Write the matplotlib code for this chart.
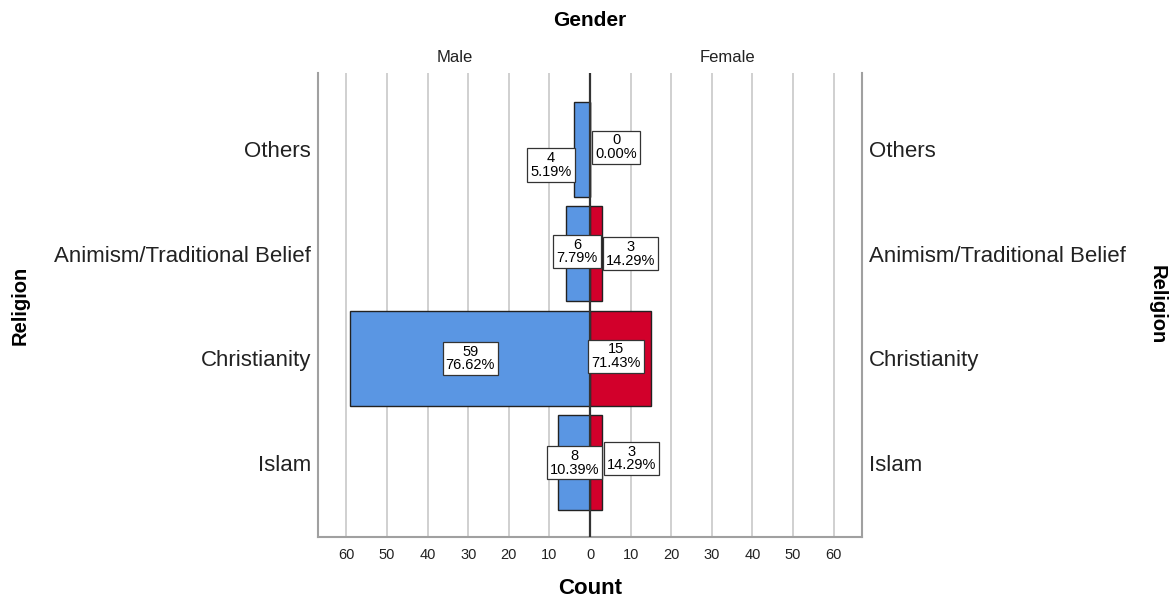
import numpy as np
import matplotlib.pyplot as plt

plt.rcParams["font.family"] = ["Liberation Sans", "DejaVu Sans"]

religions = ["Islam", "Christianity", "Animism/Traditional Belief", "Others"]
male = [8, 59, 6, 4]
female = [3, 15, 3, 0]
male_pct = ["10.39%", "76.62%", "7.79%", "5.19%"]
female_pct = ["14.29%", "71.43%", "14.29%", "0.00%"]
ticks = [-60, -50, -40, -30, -20, -10, 0, 10, 20, 30, 40, 50, 60]

# where the value boxes sit (data units), SPSS nudges them around
male_lab_x = [-3.9, -29.5, -3.2, -9.6]
male_lab_dy = [0.0, 0.0, 0.02, -0.15]
female_lab_x = [10.3, 6.4, 10.0, 6.4]
female_lab_dy = [0.04, 0.02, 0.0, 0.02]

blue = "#5a96e3"
red = "#d2002b"
grey = "#a0a0a0"

fig = plt.figure(figsize=(11.73, 5.99), dpi=100)
ax = fig.add_axes([0.271, 0.1035, 0.464, 0.7746])

y = np.arange(len(religions))
ax.barh(y, [-m for m in male], height=0.91, color=blue, edgecolor="#222222", linewidth=1, zorder=2)
ax.barh(y, female, height=0.91, color=red, edgecolor="#222222", linewidth=1, zorder=2)

for t in ticks:
    ax.axvline(t, color="#c8c8c8", linewidth=1.2, zorder=0)
ax.axvline(0, color="#333333", linewidth=1.6, zorder=3)

box = dict(boxstyle="square,pad=0.2", facecolor="white", edgecolor="#333333", linewidth=0.9)
for i in range(len(religions)):
    ax.text(male_lab_x[i], y[i] + male_lab_dy[i], f"{male[i]}\n{male_pct[i]}", ha="center", va="center",
            fontsize=10.5, linespacing=0.95, bbox=box, zorder=4)
    ax.text(female_lab_x[i], y[i] + female_lab_dy[i], f"{female[i]}\n{female_pct[i]}", ha="center", va="center",
            fontsize=10.5, linespacing=0.95, bbox=box, zorder=4)

ax.set_xlim(-67, 67)
ax.set_ylim(-0.71, 3.73)
ax.set_xticks(ticks)
ax.set_xticklabels([str(abs(t)) for t in ticks], fontsize=10.5, color="#222222")
ax.tick_params(axis="x", length=0, pad=8)

ax.set_yticks(y)
ax.set_yticklabels(religions, fontsize=16, color="#222222")
ax.tick_params(axis="y", length=0, pad=5, labelright=True, labelleft=True)

ax.spines["top"].set_visible(False)
for s in ["left", "right", "bottom"]:
    ax.spines[s].set_color(grey)
    ax.spines[s].set_linewidth(1.5)

fig.text(0.5 * (0.271 + 0.735), 1 - 20 / 599, "Gender", ha="center", va="center", fontsize=15, fontweight="bold")
fig.text(455 / 1173, 1 - 57 / 599, "Male", ha="center", va="center", fontsize=12, color="#222222")
fig.text(727 / 1173, 1 - 57 / 599, "Female", ha="center", va="center", fontsize=12, color="#222222")
fig.text(0.5 * (0.271 + 0.735), 1 - 588 / 599, "Count", ha="center", va="center", fontsize=16, fontweight="bold")
fig.text(20 / 1173, 1 - 305 / 599, "Religion", ha="center", va="center", rotation=90, fontsize=14.5, fontweight="bold")
fig.text(1157 / 1173, 1 - 305 / 599, "Religion", ha="center", va="center", rotation=-90, fontsize=14.5, fontweight="bold")

fig.savefig("out.png", dpi=100)
